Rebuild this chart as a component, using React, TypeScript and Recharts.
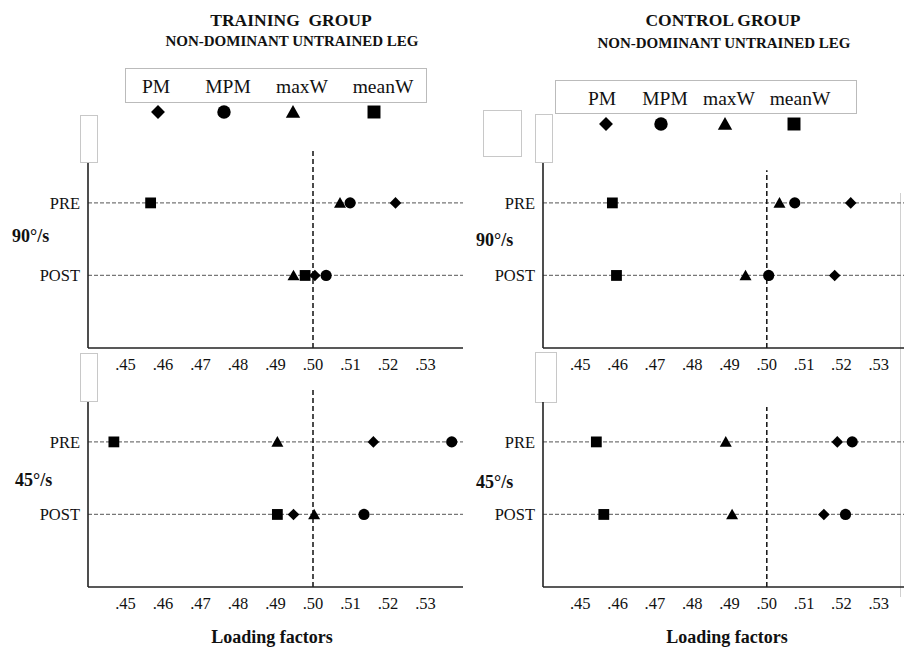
import { ScatterChart, Scatter, XAxis, YAxis, ReferenceLine } from 'recharts';

const SERIF = '"Liberation Serif", "Times New Roman", serif';

const ROWS = ['PRE', 'POST'];
const ROW_POS = [2, 1];
const X_TICKS = [0.45, 0.46, 0.47, 0.48, 0.49, 0.5, 0.51, 0.52, 0.53];

// values are [PRE, POST]
const TRAIN_90_PM = [0.522, 0.5005];
const TRAIN_90_MPM = [0.5099, 0.5035];
const TRAIN_90_MAXW = [0.5072, 0.4948];
const TRAIN_90_MEANW = [0.4567, 0.4979];

const TRAIN_45_PM = [0.5161, 0.4948];
const TRAIN_45_MPM = [0.537, 0.5136];
const TRAIN_45_MAXW = [0.4905, 0.5003];
const TRAIN_45_MEANW = [0.4469, 0.4905];

const CTRL_90_PM = [0.5225, 0.5182];
const CTRL_90_MPM = [0.5075, 0.5005];
const CTRL_90_MAXW = [0.5034, 0.4943];
const CTRL_90_MEANW = [0.4586, 0.4597];

const CTRL_45_PM = [0.5189, 0.5153];
const CTRL_45_MPM = [0.5229, 0.5211];
const CTRL_45_MAXW = [0.489, 0.4907];
const CTRL_45_MEANW = [0.4543, 0.4563];

const toPoints = (vals: number[]) => vals.map((v, i) => ({ x: v, y: ROW_POS[i], row: ROWS[i] }));

const diamond = (p: any) => (
  <path d={`M${p.cx},${p.cy - 5.8}L${p.cx + 5.8},${p.cy}L${p.cx},${p.cy + 5.8}L${p.cx - 5.8},${p.cy}Z`} fill="#000" />
);
const circle = (p: any) => <circle cx={p.cx} cy={p.cy} r={5.6} fill="#000" />;
const triangle = (p: any) => (
  <path d={`M${p.cx},${p.cy - 5.8}L${p.cx + 6},${p.cy + 4.8}L${p.cx - 6},${p.cy + 4.8}Z`} fill="#000" />
);
const square = (p: any) => <rect x={p.cx - 5.4} y={p.cy - 5.4} width={10.8} height={10.8} fill="#000" />;

const fmtTick = (v: number) => v.toFixed(2).replace(/^0/, '');

interface PanelProps {
  left: number;
  top: number;
  chartWidth: number;
  clipWidth: number;
  refTop: number;
  pm: number[];
  mpm: number[];
  maxW: number[];
  meanW: number[];
}

function Panel({ left, top, chartWidth, clipWidth, refTop, pm, mpm, maxW, meanW }: PanelProps) {
  return (
    <div style={{ position: 'absolute', left, top, width: clipWidth, height: 249, overflow: 'hidden' }}>
      <ScatterChart
        width={chartWidth}
        height={249}
        margin={{ top: 23, right: chartWidth - clipWidth > 0 ? 0 : 7, bottom: 11, left: 0 }}
      >
        <XAxis
          type="number"
          dataKey="x"
          domain={[0.44, 0.54]}
          ticks={X_TICKS}
          tickFormatter={fmtTick}
          axisLine={{ stroke: '#222', strokeWidth: 1.6 }}
          tickLine={false}
          tickMargin={4}
          height={30}
          tick={{ fontSize: 16.5, fill: '#111', fontFamily: SERIF }}
        />
        <YAxis
          type="number"
          dataKey="y"
          domain={[0, 2.55]}
          ticks={ROW_POS}
          tickFormatter={(v: number) => ROWS[ROW_POS.indexOf(v)]}
          axisLine={{ stroke: '#222', strokeWidth: 1.6 }}
          tickLine={false}
          width={88}
          tick={{ fontSize: 16.5, fill: '#111', fontFamily: SERIF }}
        />
        <ReferenceLine y={ROW_POS[0]} stroke="#777" strokeDasharray="4 2" strokeWidth={1.2} />
        <ReferenceLine y={ROW_POS[1]} stroke="#777" strokeDasharray="4 2" strokeWidth={1.2} />
        <ReferenceLine
          segment={[{ x: 0.5, y: 0 }, { x: 0.5, y: refTop }]}
          ifOverflow="visible"
          stroke="#111"
          strokeDasharray="5 3"
          strokeWidth={1.5}
        />
        <Scatter data={toPoints(meanW)} shape={square} isAnimationActive={false} />
        <Scatter data={toPoints(maxW)} shape={triangle} isAnimationActive={false} />
        <Scatter data={toPoints(mpm)} shape={circle} isAnimationActive={false} />
        <Scatter data={toPoints(pm)} shape={diamond} isAnimationActive={false} />
      </ScatterChart>
    </div>
  );
}

function Text({ x, y, size, bold, children, align = 'center' }: any) {
  return (
    <div
      style={{
        position: 'absolute',
        left: x,
        top: y,
        transform: align === 'center' ? 'translate(-50%, -50%)' : 'translate(0, -50%)',
        fontFamily: SERIF,
        fontSize: size,
        fontWeight: bold ? 'bold' : 'normal',
        color: '#111',
        whiteSpace: 'pre',
        lineHeight: 1,
      }}
    >
      {children}
    </div>
  );
}

function Box({ x, y, w, h, color = '#c8c8c8' }: any) {
  return (
    <div
      style={{ position: 'absolute', left: x, top: y, width: w, height: h, border: `1px solid ${color}`, boxSizing: 'border-box' }}
    />
  );
}

const LEGEND_NAMES = ['PM', 'MPM', 'maxW', 'meanW'];
const LEGEND_SHAPES = [diamond, circle, triangle, square];

function Legend({ box, labelX, labelY, symX, symY }: any) {
  return (
    <>
      <Box x={box[0]} y={box[1]} w={box[2]} h={box[3]} color="#bbb" />
      {LEGEND_NAMES.map((n, i) => (
        <Text key={n} x={labelX[i]} y={labelY} size={19.5}>
          {n}
        </Text>
      ))}
      {LEGEND_SHAPES.map((s, i) => (
        <svg
          key={i}
          width={20}
          height={20}
          style={{ position: 'absolute', left: symX[i] - 10, top: symY - 10, overflow: 'visible' }}
        >
          <g transform="translate(10,10) scale(1.2) translate(-10,-10)">{s({ cx: 10, cy: 10 })}</g>
        </svg>
      ))}
    </>
  );
}

export default function App() {
  return (
    <div style={{ position: 'absolute', left: 0, top: 0, width: 904, height: 649, background: '#fff', overflow: 'hidden' }}>
      <Text x={291} y={21} size={17.5} bold>
        TRAINING  GROUP
      </Text>
      <Text x={292} y={41} size={15} bold>
        NON-DOMINANT UNTRAINED LEG
      </Text>
      <Text x={723} y={21} size={17.5} bold>
        CONTROL GROUP
      </Text>
      <Text x={724} y={43} size={15} bold>
        NON-DOMINANT UNTRAINED LEG
      </Text>

      <Legend box={[125, 68, 302, 35]} labelX={[156, 228, 302, 383]} labelY={87} symX={[158, 224, 293, 374]} symY={112} />
      <Legend box={[555, 80, 302, 34]} labelX={[602, 665, 729, 800]} labelY={99} symX={[606, 661, 725, 794]} symY={124} />

      <Box x={80} y={115} w={18} h={48} />
      <Box x={80} y={353} w={18} h={49} />
      <Box x={483} y={110} w={39} h={47} />
      <Box x={535} y={114} w={18} h={49} />
      <Box x={535} y={352} w={22} h={51} />
      <div style={{ position: 'absolute', left: 900, top: 193, width: 1, height: 404, background: '#d0d0d0' }} />

      <Panel
        left={0}
        top={140}
        chartWidth={470}
        clipWidth={470}
        refTop={2.73}
        pm={TRAIN_90_PM}
        mpm={TRAIN_90_MPM}
        maxW={TRAIN_90_MAXW}
        meanW={TRAIN_90_MEANW}
      />
      <Panel
        left={0}
        top={379}
        chartWidth={470}
        clipWidth={470}
        refTop={2.75}
        pm={TRAIN_45_PM}
        mpm={TRAIN_45_MPM}
        maxW={TRAIN_45_MAXW}
        meanW={TRAIN_45_MEANW}
      />
      <Panel
        left={455}
        top={140}
        chartWidth={461}
        clipWidth={449}
        refTop={2.45}
        pm={CTRL_90_PM}
        mpm={CTRL_90_MPM}
        maxW={CTRL_90_MAXW}
        meanW={CTRL_90_MEANW}
      />
      <Panel
        left={455}
        top={379}
        chartWidth={461}
        clipWidth={449}
        refTop={2.48}
        pm={CTRL_45_PM}
        mpm={CTRL_45_MPM}
        maxW={CTRL_45_MAXW}
        meanW={CTRL_45_MEANW}
      />

      <Text x={12} y={236} size={18} bold align="left">
        90°/s
      </Text>
      <Text x={15} y={480} size={18} bold align="left">
        45°/s
      </Text>
      <Text x={476} y={240} size={18} bold align="left">
        90°/s
      </Text>
      <Text x={476} y={482} size={18} bold align="left">
        45°/s
      </Text>

      <Text x={272} y={637} size={18} bold>
        Loading factors
      </Text>
      <Text x={727} y={637} size={18} bold>
        Loading factors
      </Text>
    </div>
  );
}
